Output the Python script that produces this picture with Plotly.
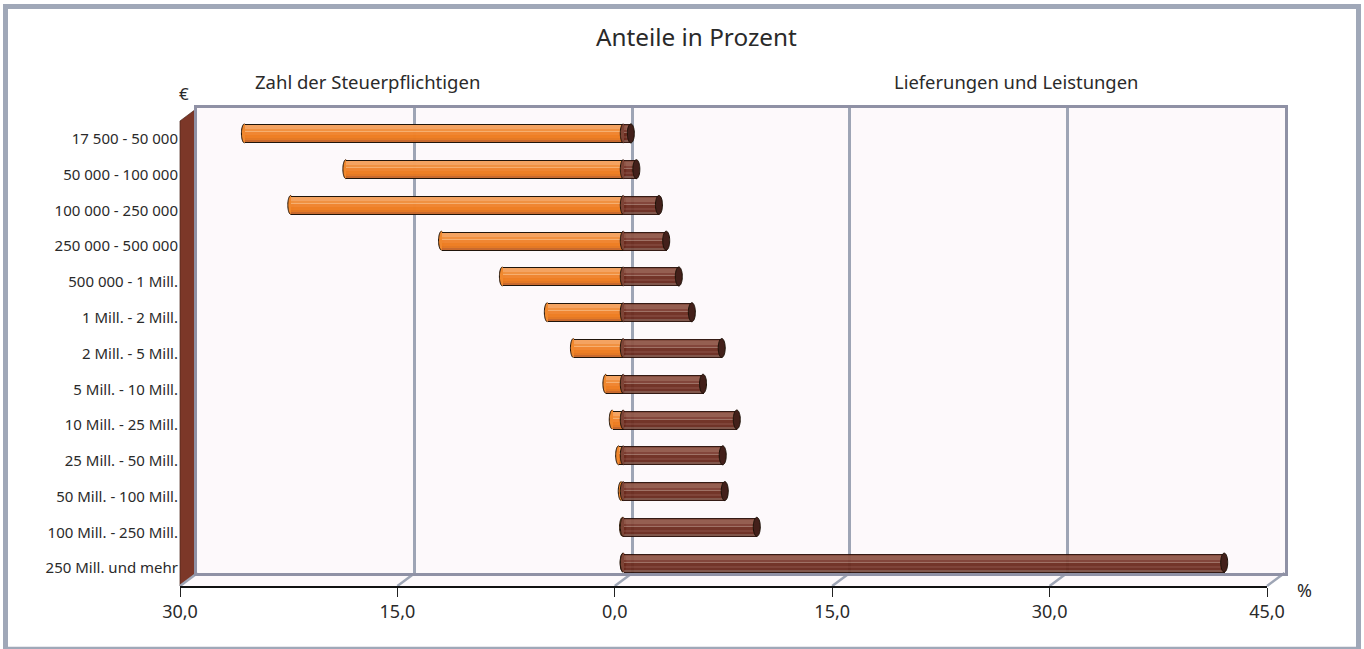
import numpy as np
import plotly.graph_objects as go

categories = ["17 500 - 50 000", "50 000 - 100 000", "100 000 - 250 000", "250 000 - 500 000",
              "500 000 - 1 Mill.", "1 Mill. - 2 Mill.", "2 Mill. - 5 Mill.", "5 Mill. - 10 Mill.",
              "10 Mill. - 25 Mill.", "25 Mill. - 50 Mill.", "50 Mill. - 100 Mill.",
              "100 Mill. - 250 Mill.", "250 Mill. und mehr"]
steuerpflichtige = [26.14, 19.14, 22.94, 12.54, 8.34, 5.24, 3.44, 1.2, 0.76, 0.32, 0.14, 0.05, 0.01]
lieferungen = [0.52, 0.9, 2.46, 2.96, 3.83, 4.73, 6.79, 5.5, 7.83, 6.86, 7.0, 9.21, 41.46]
tick_values = [-30, -15, 0, 15, 30, 45]
tick_labels = ["30,0", "15,0", "0,0", "15,0", "30,0", "45,0"]

W, H = 1364, 649
FONT = "Noto Sans"
GRID = "#9EA5B5"
EDGE = "#8F91A5"
WALL = "#7C3728"
PLANE = "#FDF9FB"
TXT = "#2a2a2a"


def dx(a, b):
    return [a / W, b / W]


def dy(top, bottom):
    return [1 - bottom / H, 1 - top / H]


cat_range = [len(categories) - 0.5, -0.5]
val_range = [-30, 45]
hidden = dict(visible=False, showgrid=False, zeroline=False)

BAR_PX = 19.0
ROW_PX = 35.77
orange_strips = [("#1d1208", 1), ("#F4A25F", 4), ("#F0903F", 2), ("#F6AE6E", 1), ("#F08530", 3),
                 ("#EE7D22", 3), ("#E47722", 2), ("#C8682C", 2), ("#1d1208", 1)]
brown_strips = [("#2a0f08", 1), ("#7E4436", 1), ("#8F5648", 4), ("#7C3C30", 2), ("#9A6A5E", 1),
                ("#6C2A1E", 3), ("#783A2E", 2), ("#68281C", 2), ("#7A4E42", 2), ("#2a0f08", 1)]

fig = go.Figure()


def rgba(hex_color, alpha):
    r, g, b = (int(hex_color[i:i + 2], 16) for i in (1, 3, 5))
    return f"rgba({r},{g},{b},{alpha})"


def add_strips(values, strips, xa, ya, alpha):
    ys = list(range(len(values)))
    pos = -BAR_PX / 2
    for color, px in strips:
        fig.add_trace(go.Bar(x=values, y=ys, orientation="h", xaxis=xa, yaxis=ya,
                             offset=pos / ROW_PX, width=px / ROW_PX,
                             marker=dict(color=rgba(color, alpha), line=dict(width=0)),
                             hoverinfo="skip", showlegend=False))
        pos += px


def ellipse_xy(centers, rx_px, start, stop, steps):
    rx = rx_px * 75 / 1087
    ry = (BAR_PX / 2) / ROW_PX
    t = np.linspace(start, stop, steps)
    xs, ys = [], []
    for i, c in enumerate(centers):
        xs += list(c + rx * np.cos(t)) + [None]
        ys += list(i + ry * np.sin(t)) + [None]
    return xs, ys


def ellipse_fill(centers, rx_px, fill, xa, ya, outline=0):
    xs, ys = ellipse_xy(centers, rx_px, 0, 2 * np.pi, 48)
    fig.add_trace(go.Scatter(x=xs, y=ys, mode="lines", fill="toself", fillcolor=fill,
                             line=dict(color="#1d1208" if outline else fill, width=outline or 0.1, simplify=False),
                             xaxis=xa, yaxis=ya, hoverinfo="skip", showlegend=False))


def left_arc(centers, rx_px, xa, ya):
    xs, ys = ellipse_xy(centers, rx_px, np.pi / 2, 3 * np.pi / 2, 24)
    fig.add_trace(go.Scatter(x=xs, y=ys, mode="lines", line=dict(color="#1d1208", width=1, simplify=False),
                             xaxis=xa, yaxis=ya, hoverinfo="skip", showlegend=False))


for xa, ya in (("x", "y"), ("x2", "y2")):
    fig.add_trace(go.Scatter(x=[0], y=[0], mode="markers", marker=dict(opacity=0), xaxis=xa, yaxis=ya,
                             hoverinfo="skip", showlegend=False))

neg = [-v for v in steuerpflichtige]
n = len(lieferungen)
ellipse_fill(neg, 3.0, "#F0882E", "x3", "y3")
add_strips(neg, orange_strips, "x4", "y4", 0.99)
left_arc(neg, 3.0, "x4", "y4")
ellipse_fill([0] * n, 3.0, "#7d4436", "x5", "y5")
add_strips(lieferungen, brown_strips, "x6", "y6", 0.95)
left_arc([0] * n, 3.0, "x6", "y6")
ellipse_fill(lieferungen, 3.5, "#43201A", "x6", "y6", outline=1)


def to_paper(path_pts):
    return "M " + " L ".join(f"{x / W:.5f} {1 - y / H:.5f}" for x, y in path_pts) + " Z"


shapes = []
shapes.append(dict(type="rect", xref="paper", yref="paper", layer="below",
                   x0=197 / W, x1=1285 / W, y0=1 - 573 / H, y1=1 - 108 / H,
                   fillcolor=PLANE, line=dict(width=0)))
shapes.append(dict(type="path", xref="paper", yref="paper", layer="below",
                   path=to_paper([(180, 586), (197, 573), (1285, 573), (1267, 586)]),
                   fillcolor=PLANE, line=dict(width=0)))
shapes.append(dict(type="path", xref="paper", yref="paper", layer="below",
                   path=to_paper([(180, 586), (196, 573), (196, 109), (180, 121)]),
                   fillcolor=WALL, line=dict(color="#4a2418", width=0.7)))
for v in tick_values:
    fx = 180 + (v + 30) * 1087 / 75
    shapes.append(dict(type="line", xref="paper", yref="paper", layer="below",
                       x0=fx / W, x1=(fx + 17.5) / W, y0=1 - 586 / H, y1=1 - 573 / H,
                       line=dict(color=GRID, width=2.5)))
shapes.append(dict(type="rect", xref="paper", yref="paper", layer="below",
                   x0=5.5 / W, x1=1358.5 / W, y0=1 - 649.2 / H, y1=1 - 6.5 / H,
                   line=dict(color="#A0A8B8", width=5), fillcolor="rgba(0,0,0,0)"))

annotations = [
    dict(text="Anteile in Prozent", x=696 / W, y=1 - 36.5 / H, font=dict(size=24.3)),
    dict(text="Zahl der Steuerpflichtigen", x=367 / W, y=1 - 81.5 / H, font=dict(size=18.5)),
    dict(text="Lieferungen und Leistungen", x=1016 / W, y=1 - 81.5 / H, font=dict(size=18.4)),
    dict(text="€", x=184 / W, y=1 - 94 / H, font=dict(size=17)),
    dict(text="%", x=1304 / W, y=1 - 590 / H, font=dict(size=18)),
]
for a in annotations:
    a.update(xref="paper", yref="paper", showarrow=False, xanchor="center", yanchor="middle")
    a["font"].update(family=FONT, color=TXT)

bar_axes = {}
for k in (3, 4, 5, 6):
    bar_axes[f"xaxis{k}"] = dict(domain=dx(188.5, 1275.5), range=val_range, anchor=f"y{k}", **hidden)
    bar_axes[f"yaxis{k}"] = dict(domain=dy(115.5, 580.5), range=cat_range, anchor=f"x{k}", **hidden)

fig.update_layout(
    width=W, height=H, autosize=False, margin=dict(l=0, r=0, t=0, b=0, autoexpand=False),
    paper_bgcolor="white", plot_bgcolor="rgba(0,0,0,0)", barmode="overlay", bargap=0,
    showlegend=False, shapes=shapes, annotations=annotations,
    font=dict(family=FONT, color=TXT),
    xaxis=dict(domain=dx(197, 1285), range=val_range, tickvals=tick_values, showticklabels=False,
               ticks="", showgrid=True, gridcolor=GRID, gridwidth=2.5, zeroline=False,
               showline=True, linecolor=EDGE, linewidth=3, mirror=True, anchor="y"),
    yaxis=dict(domain=dy(108, 573), range=cat_range, showgrid=False, showticklabels=False, ticks="",
               zeroline=False, showline=True, linecolor=EDGE, linewidth=3, mirror=True, anchor="x"),
    xaxis2=dict(domain=dx(180, 1267), range=val_range, tickmode="array", tickvals=tick_values,
                ticktext=tick_labels, ticks="outside", ticklen=9, tickwidth=1, tickcolor="#222",
                tickfont=dict(size=18, family=FONT, color=TXT), showgrid=False, zeroline=False,
                showline=True, linecolor="#111", linewidth=1.5, anchor="y2"),
    yaxis2=dict(domain=dy(121, 586), range=cat_range, tickmode="array",
                tickvals=list(range(len(categories))), ticktext=categories, ticks="",
                tickfont=dict(size=15, family=FONT, color=TXT), showgrid=False, zeroline=False,
                showline=False, anchor="x2", ticklabelstandoff=1),
    **bar_axes,
)

fig.write_html("out.html", config={"displayModeBar": False},
               post_script="document.body.style.margin='0';document.documentElement.style.overflow='hidden';")
